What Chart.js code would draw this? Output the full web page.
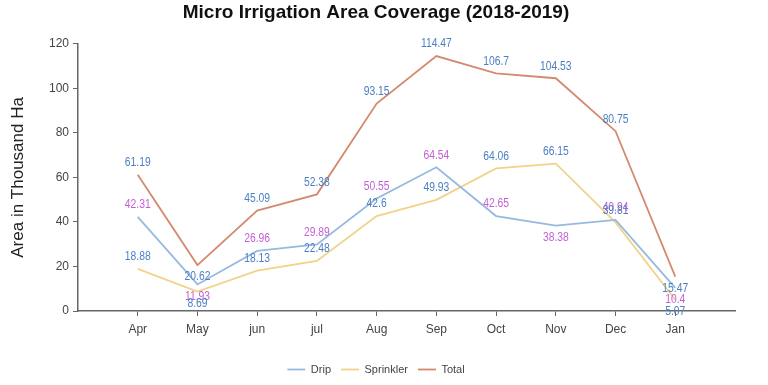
<!DOCTYPE html>
<html lang="en">
<head>
<meta charset="UTF-8">
<title>Micro Irrigation Area Coverage (2018-2019)</title>
<script src="https://cdn.jsdelivr.net/npm/chart.js"></script>
<style>
    body {
        margin: 0;
        background: #fff;
    }
    #wrap {
        width: 768px;
        height: 385px;
    }
</style>
</head>
<body>
<div id="wrap">
    <canvas id="grafica" width="768" height="385"></canvas>
</div>

<script>
    // data (thousand ha)
    const months = ['Apr', 'May', 'jun', 'jul', 'Aug', 'Sep', 'Oct', 'Nov', 'Dec', 'Jan'];
    const drip = [42.31, 11.93, 26.96, 29.89, 50.55, 64.54, 42.65, 38.38, 40.94, 10.4];
    const sprinkler = [18.88, 8.69, 18.13, 22.48, 42.6, 49.93, 64.06, 66.15, 39.81, 5.07];
    const total = [61.19, 20.62, 45.09, 52.38, 93.15, 114.47, 106.7, 104.53, 80.75, 15.47];
    const yTicks = [0, 20, 40, 60, 80, 100, 120];

    // where each value label sits (above / below the point)
    const dripPlace = ['up', 'down', 'up', 'up', 'up', 'up', 'up', 'down', 'up', 'down'];
    const sprinklerPlace = ['up', 'down', 'up', 'up', 'up', 'up', 'up', 'up', 'up', 'down'];
    const totalPlace = ['up', 'down', 'up', 'up', 'up', 'up', 'up', 'up', 'up', 'down'];

    const sans = "'Liberation Sans', Arial, sans-serif";

    function toPoints(arr) {
        return arr.map((v, i) => ({ x: i + 1, y: v }));
    }

    // value labels, drawn a bit condensed like the original
    const valueLabels = {
        id: 'valueLabels',
        afterDatasetsDraw(chart) {
            const ctx = chart.ctx;
            chart.data.datasets.forEach((ds, i) => {
                const meta = chart.getDatasetMeta(i);
                meta.data.forEach((pt, j) => {
                    const off = ds.labelPlace[j] === 'down' ? 12 : -12;
                    ctx.save();
                    ctx.translate(pt.x, pt.y + off);
                    ctx.scale(0.86, 1);
                    ctx.font = '12px ' + sans;
                    ctx.textAlign = 'center';
                    ctx.textBaseline = 'middle';
                    ctx.fillStyle = ds.labelColor;
                    ctx.fillText(String(ds.data[j].y), 0, 0);
                    ctx.restore();
                });
            });
        }
    };

    const ctx = document.getElementById('grafica').getContext('2d');
    const myChart = new Chart(ctx, {
        type: 'line',
        data: {
            datasets: [{
                label: 'Drip',
                data: toPoints(drip),
                borderColor: '#95b9df',
                backgroundColor: '#95b9df',
                borderWidth: 1.8,
                pointRadius: 0,
                labelColor: '#c460d4',
                labelPlace: dripPlace
            }, {
                label: 'Sprinkler',
                data: toPoints(sprinkler),
                borderColor: '#f2d28a',
                backgroundColor: '#f2d28a',
                borderWidth: 1.8,
                pointRadius: 0,
                labelColor: '#4d80c2',
                labelPlace: sprinklerPlace
            }, {
                label: 'Total',
                data: toPoints(total),
                borderColor: '#d38a6f',
                backgroundColor: '#d38a6f',
                borderWidth: 1.8,
                pointRadius: 0,
                labelColor: '#4d80c2',
                labelPlace: totalPlace
            }]
        },
        options: {
            responsive: false,
            animation: false,
            layout: {
                padding: { left: 0, right: 16, top: 0, bottom: 0 }
            },
            scales: {
                x: {
                    type: 'linear',
                    min: 0,
                    max: 11,
                    grid: { display: true, drawOnChartArea: false, tickLength: 5, color: '#666' },
                    border: { display: true, color: '#666', width: 1.5 },
                    afterBuildTicks(scale) {
                        scale.ticks = months.map((m, i) => ({ value: i + 1 }));
                    },
                    ticks: {
                        autoSkip: false,
                        maxRotation: 0,
                        padding: 6,
                        color: '#444',
                        font: { family: sans, size: 12 },
                        callback: v => months[v - 1]
                    },
                    afterFit(scale) {
                        scale.height = 43;
                    }
                },
                y: {
                    min: 0,
                    max: 120,
                    grid: { display: true, drawOnChartArea: false, tickLength: 5, color: '#666' },
                    border: { display: true, color: '#666', width: 1.5 },
                    afterBuildTicks(scale) {
                        scale.ticks = yTicks.map(v => ({ value: v }));
                    },
                    ticks: {
                        padding: 4,
                        color: '#444',
                        font: { family: sans, size: 12 }
                    },
                    title: {
                        display: true,
                        text: 'Area in Thousand Ha',
                        color: '#222',
                        font: { family: sans, size: 17 },
                        padding: { top: 8, bottom: 0 }
                    },
                    afterFit(scale) {
                        scale.width = 78;
                    }
                },
                y2: {
                    position: 'right',
                    min: 0,
                    max: 1,
                    grid: { display: false },
                    border: { display: false },
                    ticks: { display: false },
                    afterFit(scale) {
                        scale.width = 17;
                    }
                }
            },
            plugins: {
                title: {
                    display: true,
                    text: 'Micro Irrigation Area Coverage (2018-2019)',
                    color: '#111',
                    font: { family: sans, size: 19, weight: 'bold' },
                    padding: { top: 1, bottom: 20 }
                },
                legend: {
                    position: 'bottom',
                    labels: {
                        usePointStyle: true,
                        pointStyle: 'line',
                        pointStyleWidth: 18,
                        padding: 10,
                        color: '#444',
                        font: { family: sans, size: 11 }
                    }
                },
                tooltip: { enabled: false }
            }
        },
        plugins: [valueLabels]
    });
</script>
</body>
</html>
